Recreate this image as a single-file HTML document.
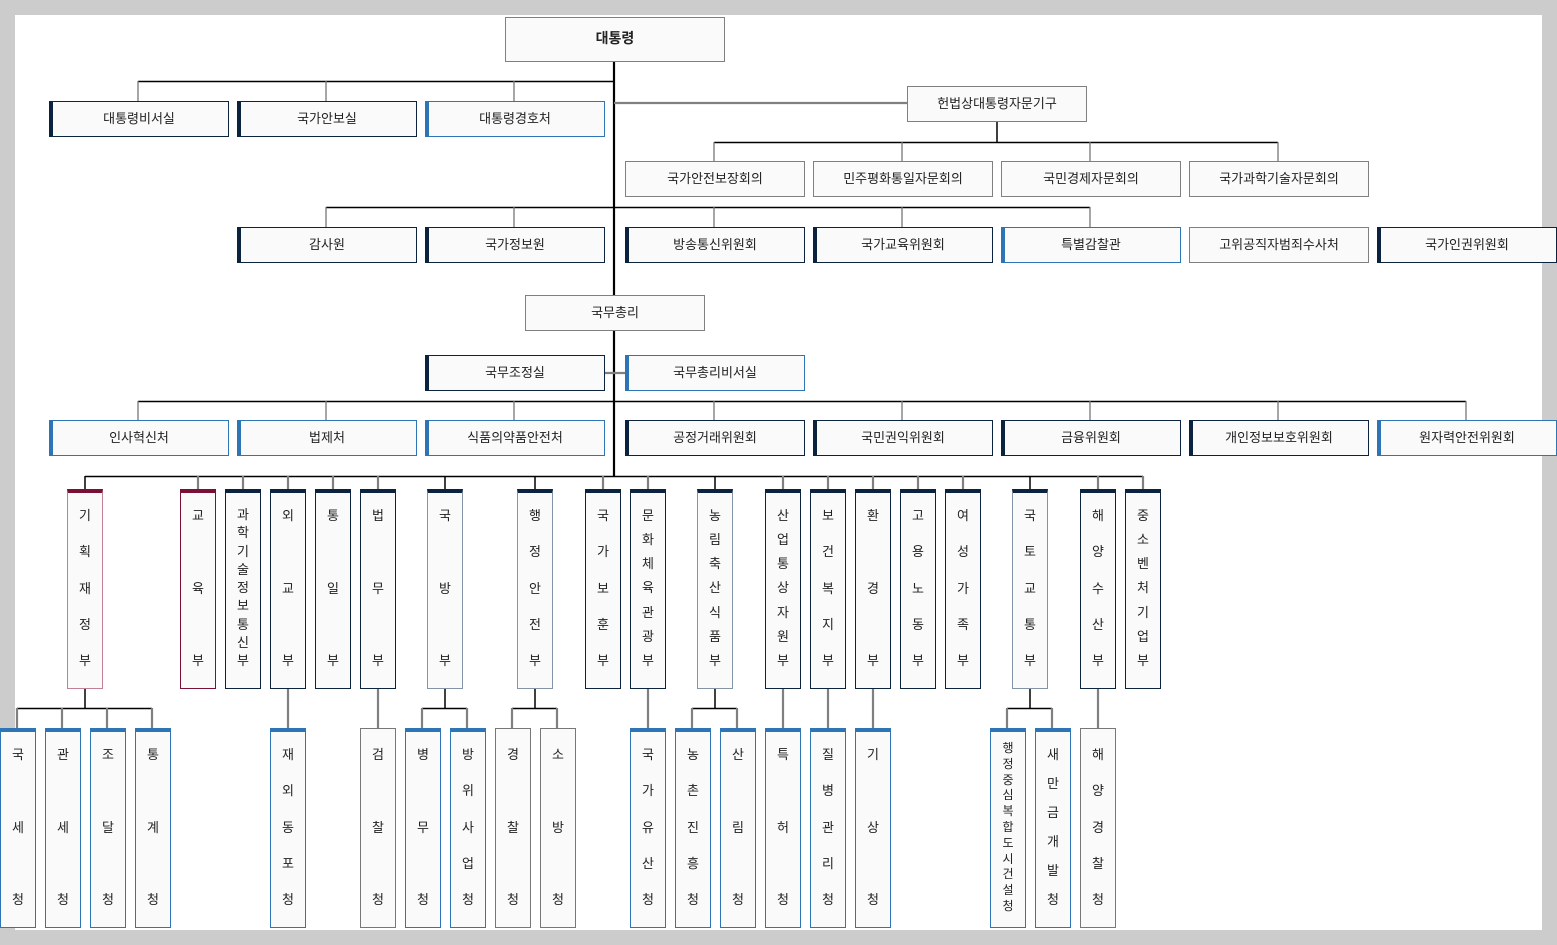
<!DOCTYPE html>
<html><head><meta charset="utf-8"><style>
*{margin:0;padding:0;box-sizing:border-box}
body{width:1557px;height:945px;background:#cccccc;position:relative;overflow:hidden;font-family:"Liberation Sans","Noto Sans CJK KR","NanumGothic",sans-serif;color:#222}
#wh{position:absolute;left:15px;top:15px;width:1527px;height:915px;background:#fff}
svg{position:absolute;left:0;top:0}
.b{position:absolute;width:180px;height:36px;background:#fafafa;border:1px solid #808080;font-size:13px;display:flex;align-items:center;justify-content:center;padding-bottom:3px}
.n{border:1px solid #0c2340;border-left:4px solid #0c2340;padding-right:3px}
.u{border:1px solid #2e75b6;border-left:4px solid #2e75b6;padding-right:3px}
.v{position:absolute;width:36px;height:200px;background:#fafafa;border:1px solid #0c2340;border-top:4px solid #0c2340;font-size:13px;display:flex;flex-direction:column;align-items:center;justify-content:space-between;padding:15px 0 20px;line-height:15px}
.vm{border-color:#7a1035}
.vp{border-color:#c08098;border-top-color:#7a1035}
.vg{border-color:#8394a6;border-top-color:#0c2340}
.s{position:absolute;width:36px;height:200px;top:728px;background:#fafafa;border:1px solid #2e75b6;border-top:4px solid #2e75b6;font-size:13px;display:flex;flex-direction:column;align-items:center;justify-content:space-between;padding:15px 0 20px;line-height:15px}
.sg{border:1px solid #777;padding-top:18px}
</style></head><body>
<div id="wh"></div>
<svg width="1557" height="945" viewBox="0 0 1557 945">
<g stroke="#000" stroke-width="1.5" fill="none">
<line x1="614" y1="61" x2="614" y2="476" stroke-width="2.2"/>
<line x1="138" y1="81.5" x2="614" y2="81.5"/>
<line x1="997" y1="121" x2="997" y2="142"/>
<line x1="714" y1="142.5" x2="1278" y2="142.5"/>
<line x1="326" y1="207.5" x2="1090" y2="207.5"/>
<line x1="138" y1="401.5" x2="1466" y2="401.5"/>
<line x1="85" y1="476.5" x2="1143" y2="476.5"/>
<line x1="85" y1="476" x2="85" y2="489"/>
<line x1="85" y1="688" x2="85" y2="708"/><line x1="17" y1="708.5" x2="152" y2="708.5"/>
<line x1="445" y1="688" x2="445" y2="708"/><line x1="422" y1="708.5" x2="467" y2="708.5"/>
<line x1="535" y1="688" x2="535" y2="708"/><line x1="512" y1="708.5" x2="557" y2="708.5"/>
<line x1="715" y1="688" x2="715" y2="708"/><line x1="692" y1="708.5" x2="737" y2="708.5"/>
<line x1="1030" y1="688" x2="1030" y2="708"/><line x1="1007" y1="708.5" x2="1052" y2="708.5"/>
</g>
<g stroke="#777" stroke-width="1.3" fill="none">
<line x1="138" y1="81" x2="138" y2="101"/><line x1="326" y1="81" x2="326" y2="101"/><line x1="514" y1="81" x2="514" y2="101"/>
<line x1="714" y1="142" x2="714" y2="161"/><line x1="902" y1="142" x2="902" y2="161"/><line x1="1090" y1="142" x2="1090" y2="161"/><line x1="1278" y1="142" x2="1278" y2="161"/>
<line x1="326" y1="207" x2="326" y2="227"/><line x1="514" y1="207" x2="514" y2="227"/><line x1="714" y1="207" x2="714" y2="227"/><line x1="902" y1="207" x2="902" y2="227"/><line x1="1090" y1="207" x2="1090" y2="227"/>
<line x1="138" y1="401" x2="138" y2="420"/><line x1="326" y1="401" x2="326" y2="420"/><line x1="514" y1="401" x2="514" y2="420"/><line x1="714" y1="401" x2="714" y2="420"/><line x1="902" y1="401" x2="902" y2="420"/><line x1="1090" y1="401" x2="1090" y2="420"/><line x1="1278" y1="401" x2="1278" y2="420"/><line x1="1466" y1="401" x2="1466" y2="420"/>
</g>
<g stroke="#808080" stroke-width="2.2" fill="none">
<line x1="614" y1="103" x2="907" y2="103"/>
<line x1="604" y1="373" x2="625" y2="373"/>
<line x1="198" y1="476" x2="198" y2="489"/><line x1="243" y1="476" x2="243" y2="489"/><line x1="288" y1="476" x2="288" y2="489"/><line x1="333" y1="476" x2="333" y2="489"/><line x1="378" y1="476" x2="378" y2="489"/><line x1="445" y1="476" x2="445" y2="489" stroke="#000" stroke-width="1.5"/><line x1="535" y1="476" x2="535" y2="489" stroke="#000" stroke-width="1.5"/><line x1="603" y1="476" x2="603" y2="489"/><line x1="648" y1="476" x2="648" y2="489"/><line x1="715" y1="476" x2="715" y2="489" stroke="#000" stroke-width="1.5"/><line x1="783" y1="476" x2="783" y2="489"/><line x1="828" y1="476" x2="828" y2="489"/><line x1="873" y1="476" x2="873" y2="489"/><line x1="918" y1="476" x2="918" y2="489"/><line x1="963" y1="476" x2="963" y2="489"/><line x1="1030" y1="476" x2="1030" y2="489" stroke="#000" stroke-width="1.5"/><line x1="1098" y1="476" x2="1098" y2="489"/><line x1="1143" y1="476" x2="1143" y2="489"/>
<line x1="17" y1="708" x2="17" y2="728"/><line x1="62" y1="708" x2="62" y2="728"/><line x1="107" y1="708" x2="107" y2="728"/><line x1="152" y1="708" x2="152" y2="728"/>
<line x1="288" y1="688" x2="288" y2="728"/><line x1="378" y1="688" x2="378" y2="728"/>
<line x1="422" y1="708" x2="422" y2="728"/><line x1="467" y1="708" x2="467" y2="728"/>
<line x1="512" y1="708" x2="512" y2="728"/><line x1="557" y1="708" x2="557" y2="728"/>
<line x1="648" y1="688" x2="648" y2="728"/>
<line x1="692" y1="708" x2="692" y2="728"/><line x1="737" y1="708" x2="737" y2="728"/>
<line x1="783" y1="688" x2="783" y2="728"/><line x1="828" y1="688" x2="828" y2="728"/><line x1="873" y1="688" x2="873" y2="728"/>
<line x1="1007" y1="708" x2="1007" y2="728"/><line x1="1052" y1="708" x2="1052" y2="728"/>
<line x1="1098" y1="688" x2="1098" y2="728"/>
</g>
</svg>

<div class="b" style="left:505px;top:17px;width:220px;height:45px;font-weight:bold;font-size:14px">대통령</div>
<div class="b n" style="left:49px;top:101px">대통령비서실</div>
<div class="b n" style="left:237px;top:101px">국가안보실</div>
<div class="b u" style="left:425px;top:101px">대통령경호처</div>
<div class="b" style="left:907px;top:86px">헌법상대통령자문기구</div>
<div class="b" style="left:625px;top:161px">국가안전보장회의</div>
<div class="b" style="left:813px;top:161px">민주평화통일자문회의</div>
<div class="b" style="left:1001px;top:161px">국민경제자문회의</div>
<div class="b" style="left:1189px;top:161px">국가과학기술자문회의</div>
<div class="b n" style="left:237px;top:227px">감사원</div>
<div class="b n" style="left:425px;top:227px">국가정보원</div>
<div class="b n" style="left:625px;top:227px">방송통신위원회</div>
<div class="b n" style="left:813px;top:227px">국가교육위원회</div>
<div class="b u" style="left:1001px;top:227px">특별감찰관</div>
<div class="b" style="left:1189px;top:227px">고위공직자범죄수사처</div>
<div class="b n" style="left:1377px;top:227px">국가인권위원회</div>
<div class="b" style="left:525px;top:295px">국무총리</div>
<div class="b n" style="left:425px;top:355px">국무조정실</div>
<div class="b u" style="left:625px;top:355px">국무총리비서실</div>
<div class="b u" style="left:49px;top:420px">인사혁신처</div>
<div class="b u" style="left:237px;top:420px">법제처</div>
<div class="b u" style="left:425px;top:420px">식품의약품안전처</div>
<div class="b n" style="left:625px;top:420px">공정거래위원회</div>
<div class="b n" style="left:813px;top:420px">국민권익위원회</div>
<div class="b n" style="left:1001px;top:420px">금융위원회</div>
<div class="b n" style="left:1189px;top:420px">개인정보보호위원회</div>
<div class="b u" style="left:1377px;top:420px">원자력안전위원회</div>

<div class="v vp" style="left:67px;top:489px"><span>기</span><span>획</span><span>재</span><span>정</span><span>부</span></div>
<div class="v vm" style="left:180px;top:489px"><span>교</span><span>육</span><span>부</span></div>
<div class="v" style="left:225px;top:489px;line-height:14px"><span>과</span><span>학</span><span>기</span><span>술</span><span>정</span><span>보</span><span>통</span><span>신</span><span>부</span></div>
<div class="v" style="left:270px;top:489px"><span>외</span><span>교</span><span>부</span></div>
<div class="v" style="left:315px;top:489px"><span>통</span><span>일</span><span>부</span></div>
<div class="v" style="left:360px;top:489px"><span>법</span><span>무</span><span>부</span></div>
<div class="v vg" style="left:427px;top:489px"><span>국</span><span>방</span><span>부</span></div>
<div class="v vg" style="left:517px;top:489px"><span>행</span><span>정</span><span>안</span><span>전</span><span>부</span></div>
<div class="v" style="left:585px;top:489px"><span>국</span><span>가</span><span>보</span><span>훈</span><span>부</span></div>
<div class="v" style="left:630px;top:489px"><span>문</span><span>화</span><span>체</span><span>육</span><span>관</span><span>광</span><span>부</span></div>
<div class="v vg" style="left:697px;top:489px"><span>농</span><span>림</span><span>축</span><span>산</span><span>식</span><span>품</span><span>부</span></div>
<div class="v" style="left:765px;top:489px"><span>산</span><span>업</span><span>통</span><span>상</span><span>자</span><span>원</span><span>부</span></div>
<div class="v" style="left:810px;top:489px"><span>보</span><span>건</span><span>복</span><span>지</span><span>부</span></div>
<div class="v" style="left:855px;top:489px"><span>환</span><span>경</span><span>부</span></div>
<div class="v" style="left:900px;top:489px"><span>고</span><span>용</span><span>노</span><span>동</span><span>부</span></div>
<div class="v" style="left:945px;top:489px"><span>여</span><span>성</span><span>가</span><span>족</span><span>부</span></div>
<div class="v vg" style="left:1012px;top:489px"><span>국</span><span>토</span><span>교</span><span>통</span><span>부</span></div>
<div class="v" style="left:1080px;top:489px"><span>해</span><span>양</span><span>수</span><span>산</span><span>부</span></div>
<div class="v" style="left:1125px;top:489px"><span>중</span><span>소</span><span>벤</span><span>처</span><span>기</span><span>업</span><span>부</span></div>

<div class="s" style="left:0px"><span>국</span><span>세</span><span>청</span></div>
<div class="s" style="left:45px"><span>관</span><span>세</span><span>청</span></div>
<div class="s" style="left:90px"><span>조</span><span>달</span><span>청</span></div>
<div class="s" style="left:135px"><span>통</span><span>계</span><span>청</span></div>
<div class="s" style="left:270px"><span>재</span><span>외</span><span>동</span><span>포</span><span>청</span></div>
<div class="s sg" style="left:360px"><span>검</span><span>찰</span><span>청</span></div>
<div class="s" style="left:405px"><span>병</span><span>무</span><span>청</span></div>
<div class="s" style="left:450px"><span>방</span><span>위</span><span>사</span><span>업</span><span>청</span></div>
<div class="s sg" style="left:495px"><span>경</span><span>찰</span><span>청</span></div>
<div class="s sg" style="left:540px"><span>소</span><span>방</span><span>청</span></div>
<div class="s" style="left:630px"><span>국</span><span>가</span><span>유</span><span>산</span><span>청</span></div>
<div class="s" style="left:675px"><span>농</span><span>촌</span><span>진</span><span>흥</span><span>청</span></div>
<div class="s" style="left:720px"><span>산</span><span>림</span><span>청</span></div>
<div class="s" style="left:765px"><span>특</span><span>허</span><span>청</span></div>
<div class="s" style="left:810px"><span>질</span><span>병</span><span>관</span><span>리</span><span>청</span></div>
<div class="s" style="left:855px"><span>기</span><span>상</span><span>청</span></div>
<div class="s" style="left:990px;font-size:12px;line-height:13px;padding:10px 0 14px"><span>행</span><span>정</span><span>중</span><span>심</span><span>복</span><span>합</span><span>도</span><span>시</span><span>건</span><span>설</span><span>청</span></div>
<div class="s" style="left:1035px"><span>새</span><span>만</span><span>금</span><span>개</span><span>발</span><span>청</span></div>
<div class="s sg" style="left:1080px"><span>해</span><span>양</span><span>경</span><span>찰</span><span>청</span></div>
</body></html>
